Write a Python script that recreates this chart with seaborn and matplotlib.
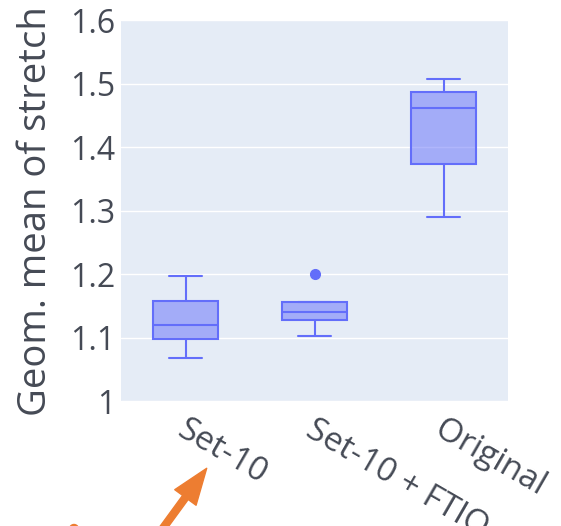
import numpy as np
import pandas as pd
import matplotlib
matplotlib.use("Agg")
import matplotlib.pyplot as plt
import matplotlib.transforms as mtransforms
from matplotlib.patches import FancyArrowPatch, Ellipse
from matplotlib.colors import to_rgba
import seaborn as sns

# Geometric mean of stretch per scheduling variant
categories = ["Set-10", "Set-10 + FTIO", "Original"]
set10_values = [1.068, 1.097, 1.120, 1.158, 1.197]
set10_ftio_values = [1.103, 1.115, 1.128, 1.134, 1.141, 1.149, 1.156, 1.156, 1.201]
original_values = [1.290, 1.374, 1.462, 1.488, 1.508]
y_ticks = [1.0, 1.1, 1.2, 1.3, 1.4, 1.5, 1.6]
y_tick_labels = ["1", "1.1", "1.2", "1.3", "1.4", "1.5", "1.6"]

df = pd.DataFrame({
    "variant": [categories[0]] * len(set10_values)
    + [categories[1]] * len(set10_ftio_values)
    + [categories[2]] * len(original_values),
    "stretch": set10_values + set10_ftio_values + original_values,
})

box_color = "#636EFA"
text_color = "#454a55"
bg_color = "#E5ECF6"

sns.set_theme(style="white")
plt.rcParams["font.family"] = ["Open Sans", "DejaVu Sans"]

fig = plt.figure(figsize=(5.61, 5.26), dpi=100)
ax = fig.add_axes([121 / 561, 1 - 401 / 526, (508 - 121) / 561, (401 - 20.5) / 526])
ax.set_facecolor(bg_color)

sns.boxplot(
    data=df, x="variant", y="stretch", order=categories,
    color=box_color, linecolor=box_color, linewidth=1.5, width=0.5,
    flierprops=dict(marker="o", markerfacecolor=box_color,
                    markeredgecolor=box_color, markersize=7),
    ax=ax, zorder=3,
)
for patch in ax.patches:
    patch.set_facecolor(to_rgba(box_color, 0.5))
    patch.set_edgecolor(box_color)

ax.set_ylim(1.0, 1.6)
ax.set_xlim(-0.5, 2.5)
ax.set_yticks(y_ticks)
ax.set_yticklabels(y_tick_labels)
ax.yaxis.grid(True, color="white", linewidth=1.0, zorder=0)
ax.set_axisbelow(True)
for s in ax.spines.values():
    s.set_visible(False)
ax.tick_params(axis="y", length=0, labelsize=23, colors=text_color, pad=4)
ax.tick_params(axis="x", length=0, labelsize=24, colors=text_color, pad=9)
shift = mtransforms.ScaledTranslation(2 / 100, 0, fig.dpi_scale_trans)
for lbl in ax.get_xticklabels():
    lbl.set_rotation(-30)
    lbl.set_ha("left")
    lbl.set_va("top")
    lbl.set_rotation_mode("anchor")
    lbl.set_transform(lbl.get_transform() + shift)
ax.set_xlabel("")
ax.set_ylabel("Geom. mean of stretch", fontsize=27.5, color=text_color, labelpad=11)

# Orange pointer at the Set-10 label
arrow = FancyArrowPatch(
    posA=(158 / 561, 1 - 535 / 526), posB=(206.7 / 561, 1 - 468.3 / 526),
    transform=fig.transFigure,
    arrowstyle="simple,head_length=26,head_width=19,tail_width=5",
    color="#ED7D31", shrinkA=0, shrinkB=0,
)
fig.add_artist(arrow)
fig.add_artist(Ellipse((74 / 561, 1 - 529 / 526), 9 / 561, 9 / 526,
                       transform=fig.transFigure, color="#ED7D31"))

fig.savefig("out.png", dpi=100)
